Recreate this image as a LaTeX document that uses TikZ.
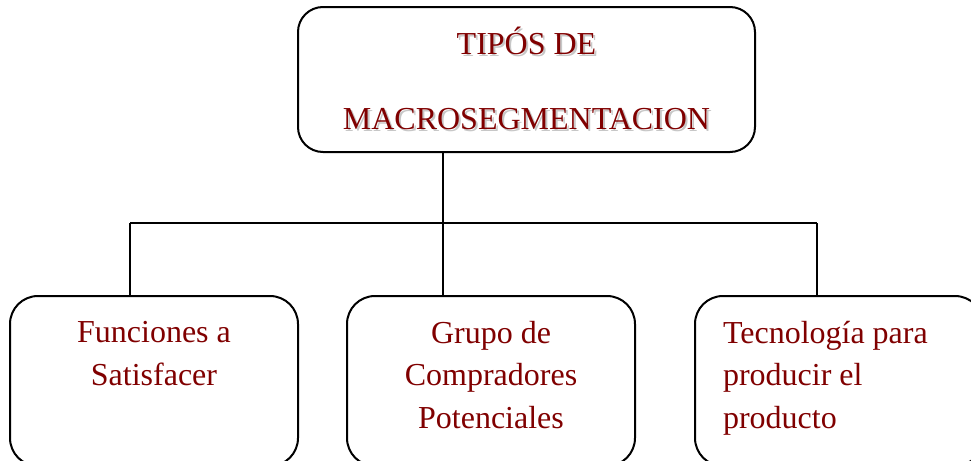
\documentclass[tikz,border=0pt]{standalone}
\usepackage{fontspec}
\setmainfont{Liberation Serif}
\usepackage{xcolor}
\definecolor{titlered}{RGB}{128,0,0}
\newcommand\shadowtext[1]{\makebox[0pt][l]{\hspace{1pt}\raisebox{-1pt}{\textcolor{black!22}{#1}}}#1}

\begin{document}
\begin{tikzpicture}[x=0.5pt, y=-0.5pt, line width=0.8pt]
\tikzset{topbox/.style={draw, line width=1pt, rounded corners=12.5pt, minimum width=228.5pt, minimum height=72.5pt, align=center, text=titlered, font=\fontsize{16}{20}\selectfont} }
\tikzset{leafbox/.style={draw, line width=1pt, rounded corners=14pt, text width=116pt, inner xsep=14pt, minimum height=85pt, align=flush center, text=titlered, font=\fontsize{16}{21.25}\selectfont} }
\useasboundingbox (0,0) rectangle (971,461);
\node[topbox] (tipos) at (526.5,79.5) {\shadowtext{TIPÓS DE}\\[17.5pt]\shadowtext{MACROSEGMENTACION}};
\node[leafbox] (funciones) at (154,381) {Funciones a\\Satisfacer\\\strut};
\node[leafbox] (grupo) at (491,381) {Grupo de\\Compradores\\Potenciales\strut};
\node[leafbox, align=flush left] (tecno) at (839,381) {Tecnología para\\producir el\\producto\strut};
\coordinate (jl) at (130,223);
\coordinate (jm) at (443,223);
\coordinate (jr) at (817,223);
\draw (jm |- tipos.south) -- (jm);
\draw (jl) -- (jr);
\draw (jl) -- (jl |- funciones.north);
\draw (jm) -- (jm |- grupo.north);
\draw (jr) -- (jr |- tecno.north);
\end{tikzpicture}
\end{document}
